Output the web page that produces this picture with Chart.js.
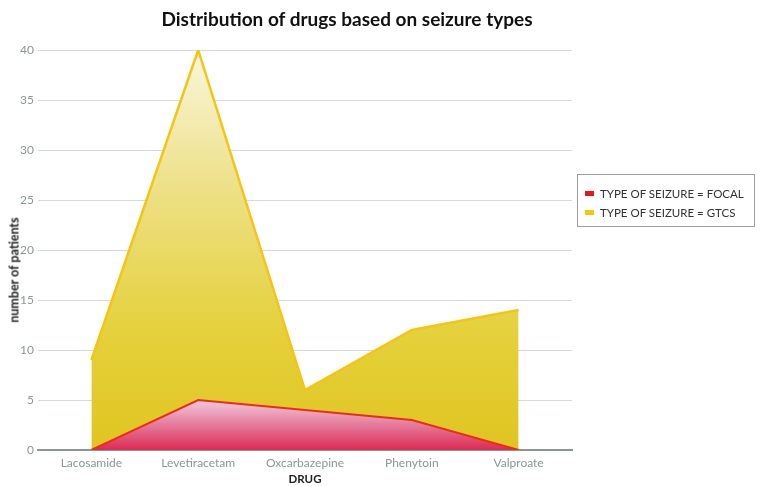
<!DOCTYPE html>
<html>
<head>
<meta charset="utf-8">
<script src="https://cdn.jsdelivr.net/npm/chart.js@4.4.1/dist/chart.umd.min.js"></script>
<style>
  body { margin: 0; background: #fff; font-family: Lato, sans-serif; }
  #wrap { position: relative; width: 760px; height: 486px; }
  #title { position: absolute; left: 0; width: 694px; top: 7px; text-align: center;
           font: bold 19px Lato, sans-serif; color: #111; }
  #ytitle { position: absolute; left: 14px; top: 270px; transform: translate(-50%, -50%) rotate(-90deg);
            white-space: nowrap; font: bold 12.5px Lato, sans-serif; color: #222; }
  #legend { position: absolute; left: 577px; top: 174px; width: 178px; height: 53px;
            border: 1px solid #9aa0a0; box-sizing: border-box; padding: 9px 0 0 7px;
            font: 11.5px Lato, sans-serif; color: #333; }
  #legend div { height: 19px; display: flex; align-items: center; }
  #legend span.sw { display: inline-block; width: 9px; height: 5px; margin-right: 6px; }
</style>
</head>
<body>
<div id="wrap">
  <canvas id="chart" width="760" height="486"></canvas>
  <div id="title">Distribution of drugs based on seizure types</div>
  <div id="ytitle">number of patients</div>
  <div id="legend">
    <div><span class="sw" style="background:#e8161a"></span>TYPE OF SEIZURE = FOCAL</div>
    <div><span class="sw" style="background:#f5c80a"></span>TYPE OF SEIZURE = GTCS</div>
  </div>
</div>
<script>
const drugs = ["Lacosamide", "Levetiracetam", "Oxcarbazepine", "Phenytoin", "Valproate"];
const focal = [0, 5, 4, 3, 0];
const gtcs = [9, 40, 6, 12, 14];
const yTicks = [0, 5, 10, 15, 20, 25, 30, 35, 40];

function gtcsFill(context) {
    const chart = context.chart;
    const area = chart.chartArea;
    if (!area) return "#e2cb22";
    const g = chart.ctx.createLinearGradient(0, area.top, 0, area.bottom);
    g.addColorStop(0, "#faf6dc");
    g.addColorStop(0.35, "#ede086");
    g.addColorStop(0.7, "#e5d13c");
    g.addColorStop(1, "#e0c520");
    return g;
}

function focalFill(context) {
    const chart = context.chart;
    const area = chart.chartArea;
    if (!area) return "#dc2a55";
    const y = chart.scales.y;
    const g = chart.ctx.createLinearGradient(0, y.getPixelForValue(5), 0, y.getPixelForValue(0));
    g.addColorStop(0, "#f2cade");
    g.addColorStop(0.5, "#e47a9c");
    g.addColorStop(1, "#dc2a52");
    return g;
}

const ctx = document.getElementById("chart").getContext("2d");
const chart = new Chart(ctx, {
    type: "line",
    data: {
        labels: drugs,
        datasets: [
            {
                label: "TYPE OF SEIZURE = FOCAL",
                data: focal,
                borderColor: "#ee2a1c",
                borderWidth: 2,
                backgroundColor: focalFill,
                fill: "origin",
                pointRadius: 0,
                tension: 0
            },
            {
                label: "TYPE OF SEIZURE = GTCS",
                data: gtcs,
                borderColor: "#f3c514",
                borderWidth: 2.5,
                backgroundColor: gtcsFill,
                fill: "origin",
                pointRadius: 0,
                tension: 0
            }
        ]
    },
    options: {
        responsive: false,
        animation: false,
        layout: { padding: { top: 50, right: 188, left: 0, bottom: 0 } },
        plugins: {
            legend: { display: false },
            tooltip: { enabled: false }
        },
        scales: {
            x: {
                offset: true,
                afterFit: s => { s.height = 36; },
                grid: { display: false, drawTicks: false },
                border: { display: true, color: "#8c9494", width: 2 },
                ticks: { color: "#8a9898", font: { family: "Lato", size: 12 }, padding: 6 },
                title: { display: true, text: "DRUG", color: "#222", font: { family: "Lato", size: 11.5, weight: "bold" }, padding: { top: 2, bottom: 0 } }
            },
            y: {
                min: 0,
                max: 40,
                afterFit: s => { s.width = 38; },
                afterBuildTicks: s => { s.ticks = yTicks.map(v => ({ value: v })); },
                grid: { color: "#d3dcdc", lineWidth: 1, drawTicks: false },
                border: { display: false },
                ticks: { color: "#8a9898", font: { family: "Lato", size: 12 }, padding: 4 }
            }
        }
    }
});
</script>
</body>
</html>
